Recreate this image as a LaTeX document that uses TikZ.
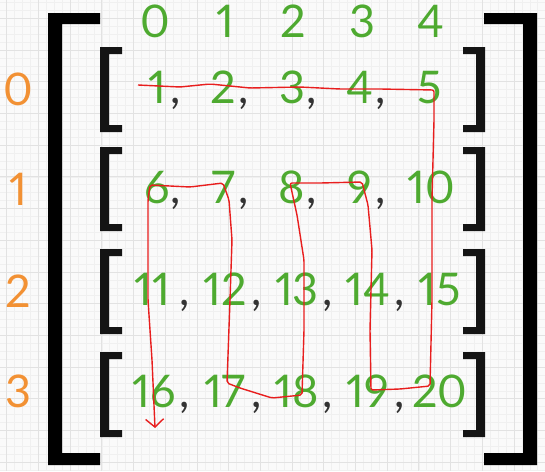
\documentclass[tikz,border=0pt]{standalone}
\usepackage{fontspec}
\setmainfont{Lato}[Numbers={Proportional,Lining}]
\usetikzlibrary{arrows.meta}
\definecolor{numgreen}{RGB}{78,170,48}
\definecolor{idxorange}{RGB}{242,145,52}
\definecolor{pathred}{RGB}{232,30,30}
\definecolor{gridmajor}{RGB}{226,226,226}
\definecolor{gridminor}{RGB}{240,240,240}
\definecolor{bgcol}{RGB}{250,250,250}
\definecolor{brk}{RGB}{20,20,20}
\begin{document}
\begin{tikzpicture}[x=1pt,y=-1pt,
 num/.style={text=numgreen,font=\fontsize{45}{48}\selectfont,inner sep=0,anchor=base},
 commasty/.style={text=black!80,font=\fontsize{45}{48}\selectfont,inner sep=0,anchor=base},
 idx/.style={text=idxorange,font=\fontsize{45}{48}\selectfont,inner sep=0,anchor=base}]
\fill[bgcol] (0,0) rectangle (545,471);
\useasboundingbox (0,0) rectangle (545,471);
% grid
\foreach \i in {-1,...,69} {\draw[gridminor,line width=0.5pt] ({6.7+\i*7.925},0) -- ++(0,471);}
\foreach \i in {-3,...,58} {\draw[gridminor,line width=0.5pt] (0,{18.3+\i*7.925}) -- ++(545,0);}
\foreach \i in {0,...,17} {\draw[gridmajor,line width=0.8pt] ({6.7+\i*31.7},0) -- ++(0,471);}
\foreach \i in {-1,...,14} {\draw[gridmajor,line width=0.8pt] (0,{18.3+\i*31.7}) -- ++(545,0);}
% big brackets
\fill[black] (48,13) -- (100,13) -- (100,24) -- (62,24) -- (62,453) -- (100,453) -- (100,465) -- (48,465) -- cycle;
\fill[black] (537,13) -- (484,13) -- (484,24) -- (523,24) -- (523,453) -- (484,453) -- (484,465) -- (537,465) -- cycle;
% inner brackets
\foreach \t/\b in {47/132,147/231,249/334,352/437} {
  \fill[brk] (100,\t) -- (122,\t) -- (122,\t+7) -- (109,\t+7) -- (109,\b-7) -- (122,\b-7) -- (122,\b) -- (100,\b) -- cycle;
  \fill[brk] (485,\t) -- (463,\t) -- (463,\t+7) -- (476,\t+7) -- (476,\b-7) -- (463,\b-7) -- (463,\b) -- (485,\b) -- cycle;
}
% column headers
\foreach \x [count=\c from 0] in {155,225,293,362,431} {\node[num] (h\c) at (\x,37) {\c};}
% row indices
\foreach \y [count=\r from 0] in {105,205,307,407} {\node[idx] (r\r) at (18,\y) {\r};}
% numbers
\foreach \x [count=\c from 1] in {157,223,292,360,430} {\node[num] (a\c) at (\x,103) {\c};}
\foreach \x [count=\c from 6] in {157,223,292,360,431} {\node[num] (a\c) at (\x,203) {\c};}
\foreach \x [count=\c from 11] in {152,225,297,368,440} {\node[num] (a\c) at (\x,305) {\c};}
\foreach \x [count=\c from 16] in {154,225,297,368,440} {\node[num] (a\c) at (\x,407) {\c};}
\foreach \x [count=\c] in {176,244,312,381} {\node[commasty] (ca\c) at (\x,103) {\makebox[0pt]{,}}; \node[commasty] (cb\c) at (\x,203) {\makebox[0pt]{,}};}
\foreach \x [count=\c] in {185,257,328,400} {\node[commasty] (cc\c) at (\x,305) {\makebox[0pt]{,}}; \node[commasty] (cd\c) at (\x,407) {\makebox[0pt]{,}};}
% red path
\draw[pathred,line width=1.4pt,line join=round,rounded corners=2pt,-{Straight Barb[length=8pt,width=18pt]}]
 (138,85) -- (180,87) -- (210,84) -- (250,88) -- (300,87) -- (340,89) -- (380,89) -- (434,90)
 -- (434,120) -- (432,200) -- (432,300) -- (430,386) -- (400,389) -- (371,390)
 -- (370,330) -- (372,250) -- (368,205) -- (362,182) -- (320,183) -- (290,183)
 -- (297,215) -- (304,260) -- (304,330) -- (302,395) -- (272,398) -- (240,388) -- (227,383)
 -- (230,300) -- (232,240) -- (229,200) -- (223,183) -- (190,187) -- (150,185)
 -- (148,200) -- (148,300) -- (152,360) -- (155,428);
\end{tikzpicture}
\end{document}
